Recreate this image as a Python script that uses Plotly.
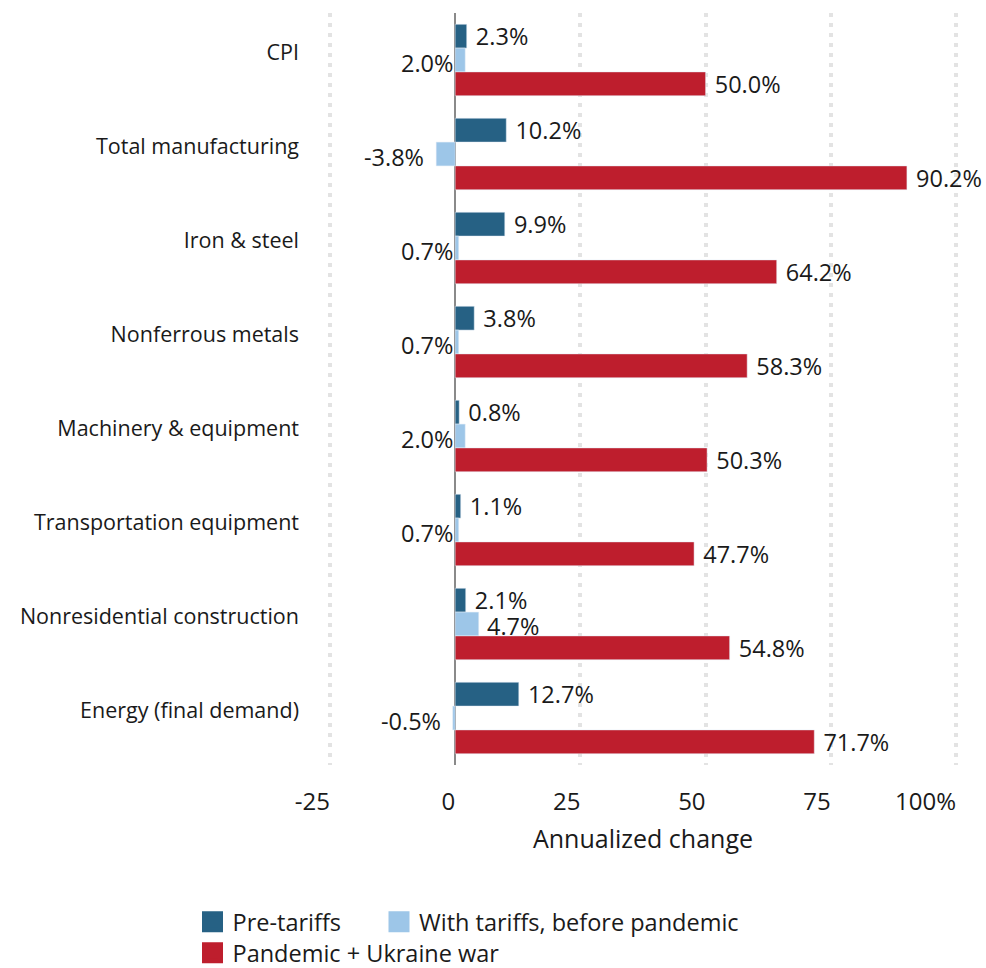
import plotly.graph_objects as go

categories = ["CPI", "Total manufacturing", "Iron & steel", "Nonferrous metals",
              "Machinery & equipment", "Transportation equipment",
              "Nonresidential construction", "Energy (final demand)"]
pre_tariffs = [2.3, 10.2, 9.9, 3.8, 0.8, 1.1, 2.1, 12.7]
with_tariffs = [2.0, -3.8, 0.7, 0.7, 2.0, 0.7, 4.7, -0.5]
pandemic_war = [50.0, 90.2, 64.2, 58.3, 50.3, 47.7, 54.8, 71.7]
light_label_side = ["left", "left", "left", "left", "left", "left", "right", "left"]

tick_vals = [-25, 0, 25, 50, 75, 100]
tick_text = ["-25", "0", "25", "50", "75", "100%"]

series_names = ["Pre-tariffs", "With tariffs, before pandemic", "Pandemic + Ukraine war"]
colors = ["#266184", "#9dc6e8", "#be1e2d"]

FONT = "Open Sans"
TXT = "#1a1a1a"
FS_CAT = 21.5
FS_LBL = 23.5
FS_TICK = 24
FS_TITLE = 25
FS_LEG = 23.5

W, H = 986, 968

fig = go.Figure()
fig.add_trace(go.Bar(y=categories, x=pre_tariffs, orientation="h", name=series_names[0],
                     marker_color=colors[0], showlegend=False,
                     texttemplate="\u00a0%{x:.1f}%", textposition="outside",
                     textfont=dict(size=FS_LBL, color=TXT, family=FONT),
                     constraintext="none", cliponaxis=False))
fig.add_trace(go.Bar(y=categories, x=with_tariffs, orientation="h", name=series_names[1],
                     marker_color=colors[1], showlegend=False, textposition="none",
                     cliponaxis=False))
fig.add_trace(go.Bar(y=categories, x=pandemic_war, orientation="h", name=series_names[2],
                     marker_color=colors[2], showlegend=False,
                     texttemplate="\u00a0%{x:.1f}%", textposition="outside",
                     textfont=dict(size=FS_LBL, color=TXT, family=FONT),
                     constraintext="none", cliponaxis=False))

# legend swatches (one legend per entry for exact placement)
legend_ids = ["legend", "legend2", "legend3"]
for nm, c, lg in zip(series_names, colors, legend_ids):
    fig.add_trace(go.Scatter(x=[None], y=[None], mode="markers", name=nm,
                             marker=dict(symbol="square", size=16, color=c,
                                         line=dict(color=c, width=5)),
                             legend=lg))

# light-bar labels
for cat, v, side in zip(categories, with_tariffs, light_label_side):
    txt = f"{v:.1f}%"
    f = dict(size=FS_LBL, color=TXT, family=FONT)
    if side == "right":
        fig.add_annotation(x=v, y=cat, text=txt, xanchor="left", showarrow=False,
                           xshift=6, yshift=-2, font=f)
    elif v < 0:
        fig.add_annotation(x=v, y=cat, text=txt, xanchor="right", showarrow=False,
                           xshift=-10, yshift=-3, font=f)
    else:
        fig.add_annotation(x=0, y=cat, text=txt, xanchor="right", showarrow=False,
                           xshift=0, yshift=-3, font=f)

leg_common = dict(orientation="h", xref="container", yref="container",
                  xanchor="left", yanchor="middle",
                  font=dict(size=FS_LEG, family=FONT, color=TXT),
                  bgcolor="rgba(0,0,0,0)")

fig.update_layout(
    width=W, height=H,
    margin=dict(l=328, r=28, t=13, b=203),
    barmode="group", bargap=0.24, bargroupgap=0,
    plot_bgcolor="white", paper_bgcolor="white",
    font=dict(family=FONT, size=FS_TICK, color=TXT),
    xaxis=dict(range=[-25.4, 100.4], tickvals=tick_vals, ticktext=tick_text,
               ticklabelposition="outside left", ticklabelstandoff=20,
               showgrid=True, gridcolor="#e3e3e3", gridwidth=4, griddash="4px,6px",
               zeroline=True, zerolinecolor="#8a8a8a", zerolinewidth=2,
               showline=False, ticks="",
               title=dict(text="Annualized change", standoff=14,
                          font=dict(size=FS_TITLE, family=FONT, color=TXT)),
               tickfont=dict(size=FS_TICK, family=FONT, color=TXT)),
    yaxis=dict(autorange="reversed", showgrid=False, zeroline=False, showline=False,
               ticks="", ticklabelstandoff=28, ticklabelshift=8,
               tickfont=dict(size=FS_CAT, family=FONT, color=TXT)),
    legend=dict(x=192.5 / W, y=(H - 922) / H, **leg_common),
    legend2=dict(x=379 / W, y=(H - 922) / H, **leg_common),
    legend3=dict(x=192.5 / W, y=(H - 953) / H, **leg_common),
)

fig.write_html("out.html", config={"displayModeBar": False},
               post_script="document.body.style.margin='0px';document.body.style.overflow='hidden';")
